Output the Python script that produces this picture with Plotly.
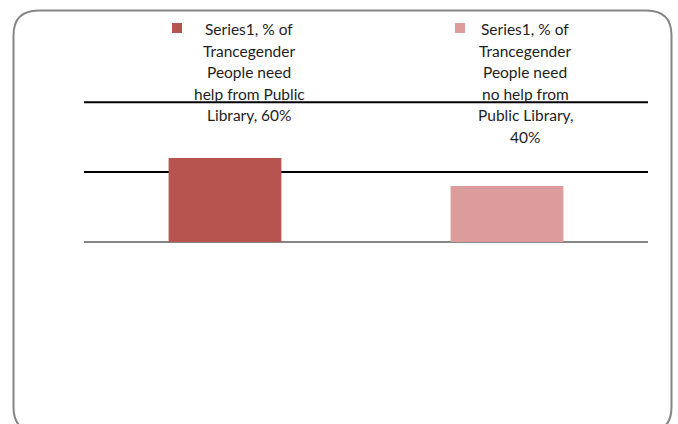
import plotly.graph_objects as go

# Chart data
categories = [
    "% of Trancegender People need help from Public Library",
    "% of Trancegender People need no help from Public Library",
]
values = [0.60, 0.40]
series_name = "Series1"
bar_colors = ["#B85450", "#DB9C9B"]
grid_values = [0.5, 1.0]
y_max = 1.03

# Data-label lines for each category; {v} is replaced by the bar's value
label_lines = [
    ["Series1, % of", "Trancegender", "People need", "help from Public", "Library, {v}"],
    ["Series1, % of", "Trancegender", "People need", "no help from", "Public Library,", "{v}"],
]

W, H = 678, 424
PL, PR, PT, PB = 84, 648, 98, 242  # plot area in pixels


def px_to_paper_x(px):
    return (px - PL) / (PR - PL)


def px_to_paper_y(py):
    return (PB - py) / (PB - PT)


fig = go.Figure()
fig.add_trace(go.Bar(
    x=categories,
    y=values,
    name=series_name,
    marker=dict(color=bar_colors, line=dict(width=0)),
    width=0.4,
    hoverinfo="skip",
))

annotations = []
shapes = []

# Horizontal gridlines (drawn under the bars)
for g in grid_values:
    shapes.append(dict(
        type="line", xref="paper", yref="y", x0=0, x1=1, y0=g, y1=g,
        line=dict(color="#000000", width=2), layer="below",
    ))

label_xshift = [24, 18]
key_offset = [-53, -52]
line_top = 29
line_step = 21.6
for i, (cat, val) in enumerate(zip(categories, values)):
    pct = f"{val:.0%}"
    for j, line in enumerate(label_lines[i]):
        annotations.append(dict(
            x=cat, xref="x",
            y=px_to_paper_y(line_top + j * line_step), yref="paper",
            text=line.replace("{v}", pct),
            showarrow=False,
            xanchor="center", yanchor="middle",
            xshift=label_xshift[i],
            font=dict(family="Lato, Carlito, sans-serif", size=15.5, color="#1e1e1e"),
        ))
    # legend key square in front of the label
    shapes.append(dict(
        type="rect", xref="x", yref="paper",
        xsizemode="pixel", ysizemode="pixel",
        xanchor=i, yanchor=px_to_paper_y(28),
        x0=key_offset[i], x1=key_offset[i] + 10,
        y0=-5, y1=5,
        fillcolor=bar_colors[i], line=dict(width=0),
    ))

# Rounded chart border
x0, x1, y0, y1, r = 13.5, 671.5, 10.5, 432, 25
pts = [
    ("M", x0 + r, y0), ("L", x1 - r, y0), ("Q", x1, y0, x1, y0 + r),
    ("L", x1, y1 - r), ("Q", x1, y1, x1 - r, y1), ("L", x0 + r, y1),
    ("Q", x0, y1, x0, y1 - r), ("L", x0, y0 + r), ("Q", x0, y0, x0 + r, y0),
]
path = ""
for p in pts:
    cmd, coords = p[0], p[1:]
    conv = []
    for k in range(0, len(coords), 2):
        conv.append(f"{px_to_paper_x(coords[k]):.5f},{px_to_paper_y(coords[k+1]):.5f}")
    path += cmd + " ".join(conv) + " "
path += "Z"
shapes.append(dict(
    type="path", xref="paper", yref="paper", path=path,
    line=dict(color="#868686", width=2), fillcolor="rgba(0,0,0,0)", layer="above",
))

fig.update_layout(
    width=W, height=H,
    margin=dict(l=PL, r=W - PR, t=PT, b=H - PB, pad=0),
    paper_bgcolor="white", plot_bgcolor="white",
    showlegend=False,
    annotations=annotations,
    shapes=shapes,
    xaxis=dict(showticklabels=False, showgrid=False, zeroline=False, showline=False, ticks=""),
    yaxis=dict(
        range=[0, y_max], showticklabels=False, ticks="",
        showgrid=False,
        zeroline=True, zerolinecolor="#868686", zerolinewidth=2,
        showline=False, fixedrange=True,
    ),
)

fig.write_html("out.html")
